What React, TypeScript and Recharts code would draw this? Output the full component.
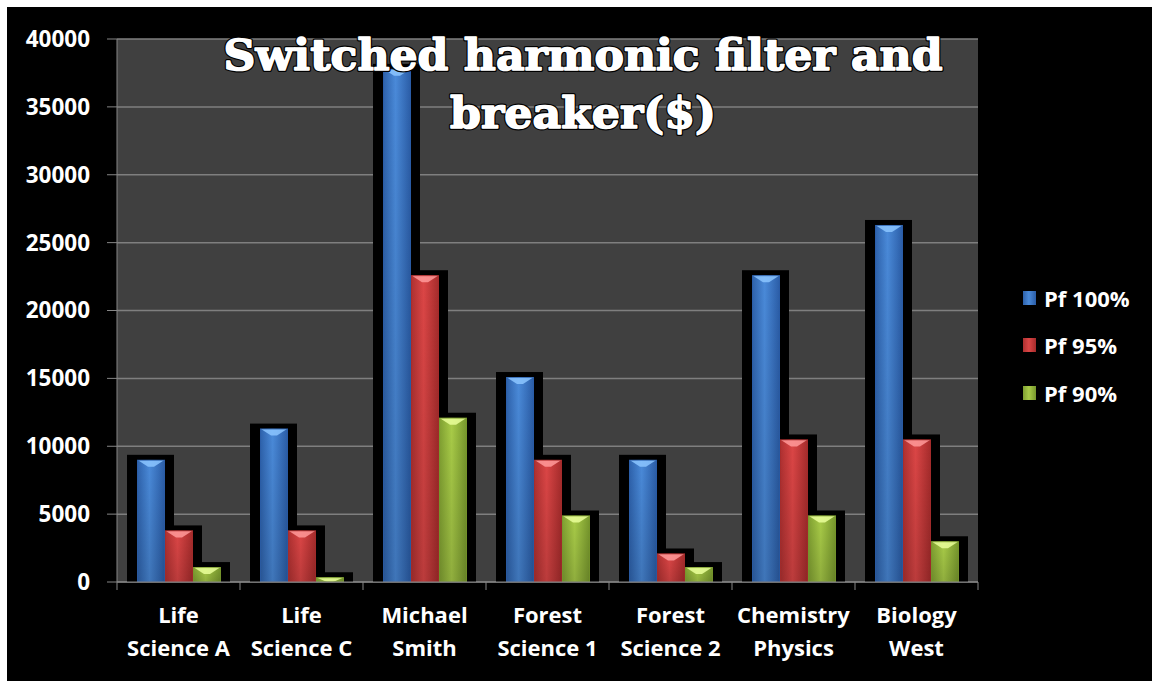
import React from "react";
import { BarChart, Bar, XAxis, YAxis, CartesianGrid } from "recharts";

const categoryLines: string[][] = [
  ["Life", "Science A"],
  ["Life", "Science C"],
  ["Michael", "Smith"],
  ["Forest", "Science 1"],
  ["Forest", "Science 2"],
  ["Chemistry", "Physics"],
  ["Biology", "West"],
];
const categories = categoryLines.map((l) => l.join(" "));
const pf100 = [9000, 11300, 37800, 15100, 9000, 22600, 26300];
const pf95 = [3800, 3800, 22600, 9000, 2100, 10500, 10500];
const pf90 = [1100, 350, 12100, 4900, 1100, 4900, 3000];
const yTicks = [0, 5000, 10000, 15000, 20000, 25000, 30000, 35000, 40000];
const seriesNames = ["Pf 100%", "Pf 95%", "Pf 90%"];
const seriesKeys = ["p100", "p95", "p90"];
const titleLines = ["Switched harmonic filter and", "breaker($)"];

const palettes = [
  { dark: "#2a5ca6", mid: "#4a8ad9", edge: "#2d61ab", top: "#8cc6ff" },
  { dark: "#a52b2b", mid: "#dc4646", edge: "#ae3030", top: "#ff9a9a" },
  { dark: "#76962c", mid: "#a9cc48", edge: "#7f9f31", top: "#eaff9a" },
];

const data = categories.map((c, i) => ({
  cat: c,
  p100: pf100[i],
  p95: pf95[i],
  p90: pf90[i],
}));

const FONT = "'Open Sans', 'DejaVu Sans', sans-serif";

const ShadowShape = (props: any) => {
  const { x, y, width, height } = props;
  if (!height || height <= 0) return null;
  return <rect x={x - 10} y={y - 5} width={width + 19} height={height + 5} fill="#000" />;
};

const makeBarShape = (i: number) => (props: any) => {
  const { x, y, width, height } = props;
  if (!height || height <= 0) return null;
  const p = palettes[i];
  const bh = Math.min(7, height);
  return (
    <g>
      <rect x={x} y={y} width={width} height={height} fill={`url(#grad${i})`} />
      <rect x={x} y={y} width={width} height={height} fill="url(#vshade)" />
      <polygon
        points={`${x + 1},${y + 0.5} ${x + width - 1},${y + 0.5} ${x + width / 2 + 3},${y + bh} ${x + width / 2 - 3},${y + bh}`}
        fill={p.top}
        opacity={0.85}
      />
      <rect x={x + 0.5} y={y + 0.5} width={width - 1} height={height - 1} fill="none" stroke={p.dark} strokeOpacity={0.6} />
    </g>
  );
};

const XTick = (props: any) => {
  const { x, y, payload, index, visibleTicksCount, width } = props;
  const half = payload && payload.offset ? payload.offset : width / visibleTicksCount / 2;
  const lines = categoryLines[index] || [];
  return (
    <g>
      <line x1={x - half} x2={x - half} y1={y} y2={y + 8} stroke="#868686" />
      {index === visibleTicksCount - 1 && (
        <line x1={x + half} x2={x + half} y1={y} y2={y + 8} stroke="#868686" />
      )}
      {lines.map((t, k) => (
        <text
          key={k}
          x={x}
          y={y + 41 + k * 33}
          textAnchor="middle"
          fill="#ffffff"
          fontFamily={FONT}
          fontWeight={700}
          fontSize={22}
        >
          {t}
        </text>
      ))}
    </g>
  );
};

export default function App() {
  const W = 1145;
  const H = 674;
  return (
    <div style={{ position: "absolute", left: 7, top: 7, width: W, height: H, background: "#000" }}>
      <BarChart
        width={W}
        height={H}
        data={data}
        margin={{ top: 32, right: 174, bottom: 9, left: 0 }}
        barCategoryGap={20}
        barGap={0}
      >
        <defs>
          {palettes.map((p, i) => (
            <linearGradient key={i} id={`grad${i}`} x1="0" y1="0" x2="1" y2="0">
              <stop offset="0%" stopColor={p.edge} />
              <stop offset="45%" stopColor={p.mid} />
              <stop offset="100%" stopColor={p.dark} />
            </linearGradient>
          ))}
          <linearGradient id="vshade" x1="0" y1="0" x2="0" y2="1">
            <stop offset="0%" stopColor="#000" stopOpacity={0} />
            <stop offset="100%" stopColor="#000" stopOpacity={0.15} />
          </linearGradient>
        </defs>
        <CartesianGrid vertical={false} fill="#404040" stroke="#7f7f7f" strokeWidth={1.5} />
        <XAxis
          dataKey="cat"
          height={90}
          tickLine={false}
          tickSize={0}
          tickMargin={0}
          axisLine={{ stroke: "#868686" }}
          tick={<XTick />}
          interval={0}
        />
        <XAxis xAxisId="s" dataKey="cat" hide />
        <YAxis
          width={110}
          domain={[0, 40000]}
          ticks={yTicks}
          interval={0}
          tickSize={10}
          tickMargin={17}
          axisLine={{ stroke: "#868686" }}
          tickLine={{ stroke: "#868686" }}
          tick={{ fill: "#ffffff", fontFamily: FONT, fontWeight: 700, fontSize: 22.5 }}
        />
        {seriesKeys.map((k) => (
          <Bar
            key={`s-${k}`}
            xAxisId="s"
            dataKey={k}
            legendType="none"
            shape={ShadowShape}
            isAnimationActive={false}
          />
        ))}
        {seriesKeys.map((k, i) => (
          <Bar
            key={k}
            dataKey={k}
            name={seriesNames[i]}
            fill={palettes[i].mid}
            shape={makeBarShape(i)}
            isAnimationActive={false}
          />
        ))}
      </BarChart>

      <svg
        width={W}
        height={H}
        style={{ position: "absolute", left: 0, top: 0, pointerEvents: "none" }}
      >
        {titleLines.map((t, k) => (
          <g key={k}>
            <text
              x={576}
              y={63 + k * 58}
              textAnchor="middle"
              fontFamily="'DejaVu Serif', serif"
              fontWeight={700}
              fontSize={43}
              fill="#000"
              stroke="#000"
              strokeWidth={4}
              strokeLinejoin="round"
              textLength={k === 0 ? 719 : 266}
              lengthAdjust="spacingAndGlyphs"
            >
              {t}
            </text>
            <text
              x={576}
              y={63 + k * 58}
              textAnchor="middle"
              fontFamily="'DejaVu Serif', serif"
              fontWeight={700}
              fontSize={43}
              fill="#ffffff"
              stroke="#ffffff"
              strokeWidth={1.6}
              strokeLinejoin="round"
              textLength={k === 0 ? 719 : 266}
              lengthAdjust="spacingAndGlyphs"
            >
              {t}
            </text>
          </g>
        ))}
      </svg>

      <div style={{ position: "absolute", left: 1016, top: 267, fontFamily: FONT }}>
        {seriesNames.map((n, i) => (
          <div key={n} style={{ display: "flex", alignItems: "center", height: 47.5, color: "#fff", fontWeight: 700, fontSize: 22 }}>
            <div
              style={{
                width: 13,
                height: 14,
                marginRight: 8,
                background: `linear-gradient(90deg, ${palettes[i].edge}, ${palettes[i].mid} 45%, ${palettes[i].dark})`,
              }}
            />
            <span>{n}</span>
          </div>
        ))}
      </div>
    </div>
  );
}
